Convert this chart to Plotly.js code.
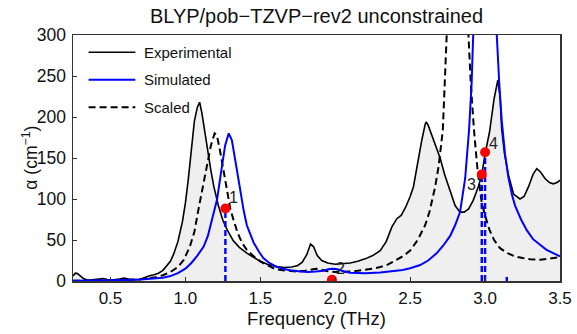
<!DOCTYPE html>
<html>
<head>
<meta charset="utf-8">
<script src="https://cdn.plot.ly/plotly-3.0.1.min.js"></script>
<style>html,body{margin:0;padding:0;background:#fff;}#chart{width:577px;height:334px;}</style>
</head>
<body>
<div id="chart"></div>
<script>
// Experimental spectrum (THz, cm^-1)
const expX = [0.25,0.265,0.28,0.3,0.32,0.35,0.39,0.42,0.45,0.48,0.52,0.56,0.59,0.62,0.66,0.7,0.73,0.76,0.79,0.82,0.85,0.88,0.9,0.922,0.95,0.98,1.0,1.02,1.04,1.06,1.08,1.095,1.11,1.13,1.15,1.17,1.19,1.22,1.25,1.28,1.32,1.36,1.41,1.46,1.5,1.55,1.61,1.66,1.71,1.75,1.78,1.81,1.835,1.855,1.88,1.91,1.95,2.0,2.05,2.1,2.15,2.2,2.25,2.3,2.34,2.378,2.411,2.44,2.47,2.5,2.522,2.55,2.578,2.6,2.607,2.62,2.64,2.655,2.68,2.7,2.73,2.767,2.8,2.833,2.86,2.89,2.92,2.955,2.978,3.0,3.03,3.06,3.085,3.1,3.111,3.13,3.155,3.19,3.233,3.26,3.29,3.32,3.345,3.37,3.4,3.43,3.455,3.48,3.5];
const expY = [6,9.5,9,6,3,1,1.5,2.5,3,1.8,1.5,2.5,3.5,2.5,1.5,2,4.5,6.5,7.5,9.5,13,19,24,33,48,72,95,125,160,195,212,218,205,180,160,135,115,92,74,62,49,41,34,28,24,20,17.5,16.5,17,19,23,32,45,42,31,25,22,20.5,21,22,24,27,31,37,48,66,76,80,90,103,115,145,172,191,194,190,180,172,160,150,130,110,92,84,84,88,98,115,130,155,182,222,245,225,185,155,130,106,100,103,115,130,137,133,125,120,118.5,120,123];

// Simulated spectrum
const simX = [0.25,0.4,0.5,0.6,0.7,0.8,0.85,0.9,0.95,1.0,1.04,1.08,1.122,1.15,1.18,1.211,1.24,1.265,1.289,1.31,1.335,1.367,1.39,1.41,1.435,1.455,1.49,1.52,1.56,1.6,1.65,1.7,1.767,1.82,1.87,1.92,1.96,1.99,2.02,2.06,2.1,2.2,2.3,2.4,2.45,2.5,2.567,2.62,2.678,2.72,2.767,2.8,2.833,2.867,2.893,2.91,2.926,2.96,3.0,3.04,3.078,3.095,3.111,3.133,3.155,3.18,3.2,3.24,3.278,3.32,3.367,3.41,3.455,3.5];
const simY = [0.3,0.5,0.8,1.2,1.8,3,4,6,9.5,15,22,31,42,55,75,99,135,165,180,172,145,107,85,68,55,47,36,28,22,18,15,13,11.5,11,11.5,12.5,14.5,15,14,11.5,10,9.5,10.5,12,13.5,15.5,19.5,25,34,43,55,68,84,125,184,240,300,560,744,560,300,240,196,155,127,105,92,75,62,51,44,38,34,30];

// Scaled spectrum
const scaledX = [0.25,0.4,0.5,0.6,0.7,0.75,0.8,0.85,0.9,0.95,0.99,1.03,1.06,1.09,1.12,1.145,1.17,1.195,1.21,1.23,1.255,1.28,1.3,1.322,1.35,1.38,1.41,1.45,1.5,1.55,1.6,1.65,1.7,1.75,1.8,1.84,1.87,1.9,1.95,2.0,2.05,2.1,2.15,2.2,2.25,2.3,2.35,2.4,2.45,2.5,2.55,2.6,2.63,2.667,2.69,2.718,2.735,2.751,2.78,2.82,2.86,2.889,2.905,2.926,2.95,2.978,3.0,3.03,3.06,3.1,3.15,3.2,3.25,3.3,3.367,3.43,3.5];
const scaledY = [0.3,0.5,0.8,1.2,2,3,4.5,7,11,17,26,42,60,90,120,140,165,180,178,160,135,105,88,74,58,46,38,31,24,19,14.5,13,12,11.5,12.5,14,15,14,12,11,11,11.5,12.5,13.5,15,17,20,25,30,37,50,68,85,115,140,184,240,300,470,640,480,300,240,184,135,95,80,62,50,40,34,30,28,26.5,26,27,29];

// Selected modes (vertical markers) and labelled points
const modeX = [1.267, 1.978, 2.978, 3.0, 3.145];
const modeTop = [88.5, 6, 130, 157, 5];
const dotX = [1.267, 1.978, 2.978, 3.0];
const dotY = [88.5, 1.5, 130, 157];
const dotLabels = ['1', '2', '3', '4'];
const labelX = [1.322, 2.035, 2.912, 3.055];
const labelY = [102, 15, 118, 168];

const xTicks = [0.5, 1.0, 1.5, 2.0, 2.5, 3.0, 3.5];
const xTickText = ['0.5', '1.0', '1.5', '2.0', '2.5', '3.0', '3.5'];
const yTicks = [0, 50, 100, 150, 200, 250, 300];

const legendNames = ['Experimental', 'Simulated', 'Scaled'];
const titleText = 'BLYP/pob−TZVP−rev2 unconstrained';
const xTitle = 'Frequency (THz)';
const yTitle = 'α (cm<sup>−1</sup>)';

const FONT = 'Liberation Sans, Arial, Helvetica, sans-serif';
const BLUE = '#0000ff';

const traces = [];
traces.push({x: expX, y: expY, mode: 'lines', fill: 'tozeroy', fillcolor: '#efefef',
  line: {color: '#000', width: 1.6}, name: legendNames[0], showlegend: false, hoverinfo: 'skip'});
traces.push({x: scaledX, y: scaledY, mode: 'lines',
  line: {color: '#000', width: 2, dash: '7px,4px'}, name: legendNames[2], showlegend: false});
traces.push({x: simX, y: simY, mode: 'lines',
  line: {color: BLUE, width: 2}, name: legendNames[1], showlegend: false});
for (let i = 0; i < modeX.length; i++) {
  traces.push({x: [modeX[i], modeX[i]], y: [0, modeTop[i]], mode: 'lines',
    line: {color: BLUE, width: 2.4, dash: '6px,3px'}, showlegend: false, hoverinfo: 'skip'});
}
traces.push({x: dotX, y: dotY, mode: 'markers', marker: {color: '#ff0000', size: 10},
  showlegend: false, cliponaxis: true});

const annotations = dotLabels.map((t, i) => ({
  x: labelX[i], y: labelY[i], xref: 'x', yref: 'y', text: t, showarrow: false,
  font: {family: FONT, size: 16, color: '#222'}
}));

// custom legend (line samples + labels)
const legRowsY = [0.930, 0.818, 0.706];
const legStyles = [
  {color: '#000', width: 1.6},
  {color: BLUE, width: 2},
  {color: '#000', width: 2, dash: '7px,4px'}
];
const shapes = [];
for (let i = 0; i < 3; i++) {
  shapes.push({type: 'line', xref: 'paper', yref: 'paper', x0: 0.032, x1: 0.128,
    y0: legRowsY[i], y1: legRowsY[i], line: legStyles[i]});
  annotations.push({xref: 'paper', yref: 'paper', x: 0.1424, y: legRowsY[i], xanchor: 'left', yanchor: 'middle',
    text: legendNames[i], showarrow: false, font: {family: FONT, size: 15, color: '#111'}});
}
// y-axis title
annotations.push({xref: 'paper', yref: 'paper', x: -0.089, y: 0.5, xanchor: 'center', yanchor: 'middle',
  textangle: -90, text: yTitle, showarrow: false, font: {family: FONT, size: 17.5, color: '#111'}});

const layout = {
  width: 577, height: 334,
  margin: {l: 72.5, r: 16.5, t: 34.5, b: 53, pad: 0},
  paper_bgcolor: '#fff', plot_bgcolor: '#fff',
  font: {family: FONT, color: '#111'},
  showlegend: false,
  title: {text: titleText, font: {family: FONT, size: 20, color: '#111'},
    x: 0.5, xref: 'paper', xanchor: 'center', y: 0.953, yref: 'container', yanchor: 'middle'},
  xaxis: {range: [0.25, 3.5], tickvals: xTicks, ticktext: xTickText, ticks: 'inside', ticklen: 4,
    tickcolor: '#333', showline: true, linecolor: '#333', linewidth: 1.5, mirror: true,
    showgrid: false, zeroline: false, tickfont: {family: FONT, size: 17, color: '#111'},
    ticklabelstandoff: 1,
    title: {text: xTitle, font: {family: FONT, size: 18.5, color: '#111'}, standoff: 0}},
  yaxis: {range: [0, 300], tickvals: yTicks, ticks: 'inside', ticklen: 4,
    tickcolor: '#333', showline: true, linecolor: '#333', linewidth: 1.5, mirror: true,
    showgrid: false, zeroline: false, tickfont: {family: FONT, size: 17.5, color: '#111'},
    ticklabelstandoff: 2},
  shapes: shapes,
  annotations: annotations
};

Plotly.newPlot('chart', traces, layout, {displayModeBar: false, staticPlot: true});
</script>
</body>
</html>
